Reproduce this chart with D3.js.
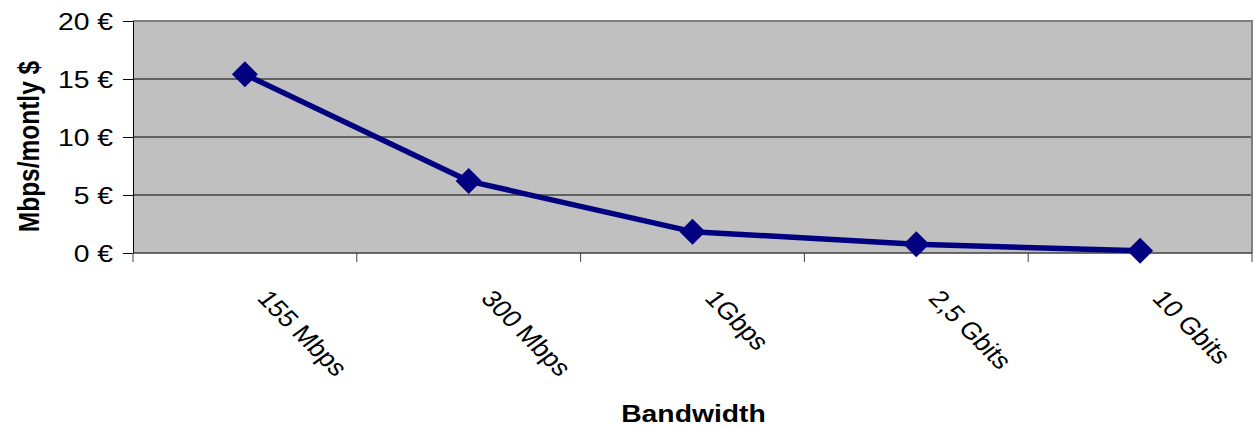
<!DOCTYPE html>
<html><head><meta charset="utf-8">
<script src="https://cdn.jsdelivr.net/npm/d3@7"></script>
<style>body{margin:0;background:#fff;} svg{display:block;font-family:Arial,"Liberation Sans",sans-serif;}</style>
</head><body>
<script>
const categories = ["155 Mbps","300 Mbps","1Gbps","2,5 Gbits","10 Gbits"];
const values = [15.4, 6.2, 1.84, 0.75, 0.2];
const yTicks = [0,5,10,15,20];
const yLabel = "Mbps/montly $";
const xLabel = "Bandwidth";

const W=1254,H=427, SX=1.18;
const m={l:133,t:21,r:1252,b:253};
const svg=d3.select("body").append("svg").attr("width",W).attr("height",H);
const x=d3.scaleBand().domain(categories).range([m.l,m.r]);
const y=d3.scaleLinear().domain([0,20]).range([m.b,m.t]);

svg.append("rect").attr("x",m.l).attr("y",m.t).attr("width",m.r-m.l).attr("height",m.b-m.t).attr("fill","#c0c0c0");
// gridlines
svg.append("g").selectAll("line").data(yTicks.filter(d=>d>0&&d<20)).join("line")
  .attr("x1",m.l).attr("x2",m.r).attr("y1",d=>y(d)).attr("y2",d=>y(d)).attr("stroke","#000").attr("stroke-width",1);
// frame top/right
svg.append("path").attr("d",`M${m.l},${m.t}H${m.r}V${m.b}`).attr("fill","none").attr("stroke","#808080").attr("stroke-width",2);

// y axis
const ya=svg.append("g").attr("transform",`translate(${m.l},0)`)
  .call(d3.axisLeft(y).tickValues(yTicks).tickSize(10).tickFormat(""));
ya.select(".domain").attr("stroke","#000");
ya.selectAll(".tick line").attr("stroke","#000");
svg.append("g").selectAll("text").data(yTicks).join("text")
  .attr("transform",d=>`translate(${m.l-20},${y(d)}) scale(${SX},1)`)
  .attr("text-anchor","end").attr("dy","0.36em").attr("font-size",24).attr("fill","#000")
  .text(d=>d+" €");

// x axis
const ticksX=categories.map(c=>x(c)).concat([m.r]);
const xa=svg.append("g");
xa.append("line").attr("x1",m.l).attr("x2",m.r).attr("y1",m.b).attr("y2",m.b).attr("stroke","#404040").attr("stroke-width",1.5);
xa.selectAll("line.t").data(ticksX).join("line").attr("class","t")
  .attr("x1",d=>d).attr("x2",d=>d).attr("y1",m.b).attr("y2",m.b+9).attr("stroke","#404040").attr("stroke-width",1);
xa.selectAll("text").data(categories).join("text")
  .attr("transform",d=>`translate(${x(d)+x.bandwidth()/2+11},${m.b+46}) scale(${SX},1) rotate(49.7)`)
  .attr("font-size",23.5).attr("fill","#000").text(d=>d);

// line
const line=d3.line().x((d,i)=>x(categories[i])+x.bandwidth()/2).y(d=>y(d));
svg.append("path").datum(values).attr("d",line).attr("fill","none").attr("stroke","#000080").attr("stroke-width",5.5).attr("stroke-linejoin","round");
svg.append("g").selectAll("path").data(values).join("path")
  .attr("transform",(d,i)=>`translate(${x(categories[i])+x.bandwidth()/2},${y(d)})`)
  .attr("d","M0,-13L13,0L0,13L-13,0Z").attr("fill","#000080");

// axis titles
svg.append("text").attr("transform",`translate(28.5,146.5) scale(${SX},1) rotate(-90)`).attr("text-anchor","middle")
  .attr("dy","0.36em").attr("font-size",24.5).attr("font-weight","bold").text(yLabel);
svg.append("text").attr("transform",`translate(693.5,421.5) scale(${SX},1)`).attr("text-anchor","middle")
  .attr("font-size",24).attr("font-weight","bold").text(xLabel);
</script>
</body></html>
